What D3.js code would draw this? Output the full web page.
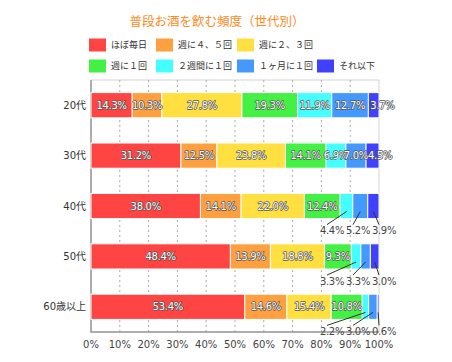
<!DOCTYPE html>
<html>
<head>
<meta charset="utf-8">
<script src="https://cdn.jsdelivr.net/npm/d3@7"></script>
<style>
	body { margin: 0; background: #fff; }
	svg { display: block; font-family: "DejaVu Sans", "Noto Sans CJK JP", sans-serif; }
	.val { font-size: 10px; letter-spacing: -0.3px; fill: #fff; stroke: #555; stroke-width: 1.4px; paint-order: stroke; stroke-linejoin: round; }
	.val.out { fill: #444; stroke: none; }
</style>
</head>
<body>
<svg width="452" height="362"></svg>
<script>
var ages = ["20代", "30代", "40代", "50代", "60歳以上"];
var freqs = ["ほぼ毎日", "週に４、５回", "週に２、３回", "週に１回", "２週間に１回", "１ヶ月に１回", "それ以下"];
var colors = ["#ff4444", "#ffa040", "#ffe040", "#44f044", "#44ffff", "#4499ff", "#4040ff"];

var daily   = [14.3, 31.2, 38.0, 48.4, 53.4];
var week45  = [10.3, 12.5, 14.1, 13.9, 14.6];
var week23  = [27.8, 23.8, 22.0, 18.8, 15.4];
var week1   = [19.3, 14.1, 12.4, 9.3, 10.8];
var biweek  = [11.9, 6.9, 4.4, 3.3, 2.2];
var month1  = [12.7, 7.0, 5.2, 3.3, 3.0];
var less    = [3.7, 4.5, 3.9, 3.0, 0.6];

var ticks = [0, 10, 20, 30, 40, 50, 60, 70, 80, 90, 100];

// rows whose three smallest values are labelled below the bar
var calloutRows = ["40代", "50代", "60歳以上"];

drawChart();

function drawChart() {
	var series = [daily, week45, week23, week1, biweek, month1, less];
	var rows = ages.map(function (a, i) {
		var r = { age: a };
		freqs.forEach(function (f, j) { r[f] = series[j][i]; });
		return r;
	});

	var stacked = d3.stack().keys(freqs)(rows);

	var svg = d3.select("svg");
	var pLeft = 91, pRight = 379, pTop = 80, pBottom = 332;

	var x = d3.scaleLinear().domain([0, 100]).range([pLeft, pRight]);
	var y = d3.scaleBand().domain(ages).range([pTop, pBottom]).paddingInner(0.5).paddingOuter(0.25);

	// title
	svg.append("text")
		.attr("x", 217).attr("y", 22)
		.attr("text-anchor", "middle").attr("dy", ".35em")
		.style("font-family", "'Noto Sans CJK JP'")
		.style("font-size", "12.5px")
		.style("fill", "#ff8a1c")
		.text("普段お酒を飲む頻度（世代別）");

	// legend
	var legX = [89, 156, 237, 89, 156, 237, 317];
	var legY = [45, 45, 45, 66, 66, 66, 66];
	var leg = svg.selectAll(".leg").data(freqs).enter().append("g")
		.attr("class", "leg")
		.attr("transform", function (d, i) { return "translate(" + legX[i] + "," + legY[i] + ")"; });
	leg.append("rect")
		.attr("x", 0).attr("y", -6.5).attr("width", 17).attr("height", 13)
		.attr("fill", function (d, i) { return colors[i]; });
	leg.append("text")
		.attr("x", 22).attr("dy", ".35em")
		.style("font-family", "'Noto Sans CJK JP'")
		.style("font-size", "9px").style("fill", "#333")
		.text(function (d) { return d; });

	// frame + grid
	svg.append("rect")
		.attr("x", pLeft).attr("y", pTop).attr("width", pRight - pLeft).attr("height", pBottom - pTop)
		.attr("fill", "none").attr("stroke", "#d4d4d4");
	svg.selectAll(".grid").data(ticks.slice(1, -1)).enter().append("line")
		.attr("class", "grid")
		.attr("x1", function (d) { return x(d); }).attr("x2", function (d) { return x(d); })
		.attr("y1", pTop).attr("y2", pBottom)
		.attr("stroke", "#aaa").attr("stroke-dasharray", "2,3");
	svg.append("path")
		.attr("d", "M" + pLeft + "," + pTop + "V" + pBottom + "H" + pRight)
		.attr("fill", "none").attr("stroke", "#999").attr("stroke-width", 1.5);

	// axis labels
	svg.selectAll(".tick-l").data(ticks).enter().append("text")
		.attr("x", function (d) { return x(d); }).attr("y", 344)
		.attr("text-anchor", "middle").attr("dy", ".35em")
		.style("font-size", "10px").style("fill", "#444")
		.text(function (d) { return d + "%"; });
	svg.selectAll(".cat").data(ages).enter().append("text")
		.attr("x", 86).attr("y", function (d) { return y(d) + y.bandwidth() / 2; })
		.attr("text-anchor", "end").attr("dy", ".35em")
		.style("font-size", "10px").style("fill", "#333")
		.text(function (d) { return d; });

	// bars
	var layer = svg.selectAll(".layer").data(stacked).enter().append("g")
		.attr("class", "layer")
		.attr("fill", function (d, i) { return colors[i]; });
	layer.selectAll("rect").data(function (d) { return d; }).enter().append("rect")
		.attr("x", function (d) { return x(d[0]); })
		.attr("y", function (d) { return y(d.data.age); })
		.attr("width", function (d) { return x(d[1]) - x(d[0]); })
		.attr("height", y.bandwidth())
		.attr("stroke", "#fff").attr("stroke-width", 1);

	// value labels
	stacked.forEach(function (s, k) {
		s.forEach(function (d) {
			var age = d.data.age;
			var v = d[1] - d[0];
			var cx = (x(d[0]) + x(d[1])) / 2;
			if (k >= 4 && calloutRows.indexOf(age) >= 0) {
				var lx = x(100) - 47 + (k - 4) * 26;
				var ly = y(age) + y.bandwidth() + 12;
				svg.append("line")
					.attr("x1", lx - 5).attr("y1", ly - 6)
					.attr("x2", cx).attr("y2", y(age) + y.bandwidth() - 7)
					.attr("stroke", "#333").attr("stroke-width", 1);
				svg.append("text").attr("class", "val out")
					.attr("x", lx).attr("y", ly).attr("dy", ".35em")
					.attr("text-anchor", "middle")
					.text(v.toFixed(1) + "%");
			} else {
				var last = k == freqs.length - 1;
				svg.append("text").attr("class", "val")
					.attr("x", last ? x(d[0]) + 2 : cx)
					.attr("y", y(age) + y.bandwidth() / 2).attr("dy", ".35em")
					.attr("text-anchor", last ? "start" : "middle")
					.text(v.toFixed(1) + "%");
			}
		});
	});
}
</script>
</body>
</html>
